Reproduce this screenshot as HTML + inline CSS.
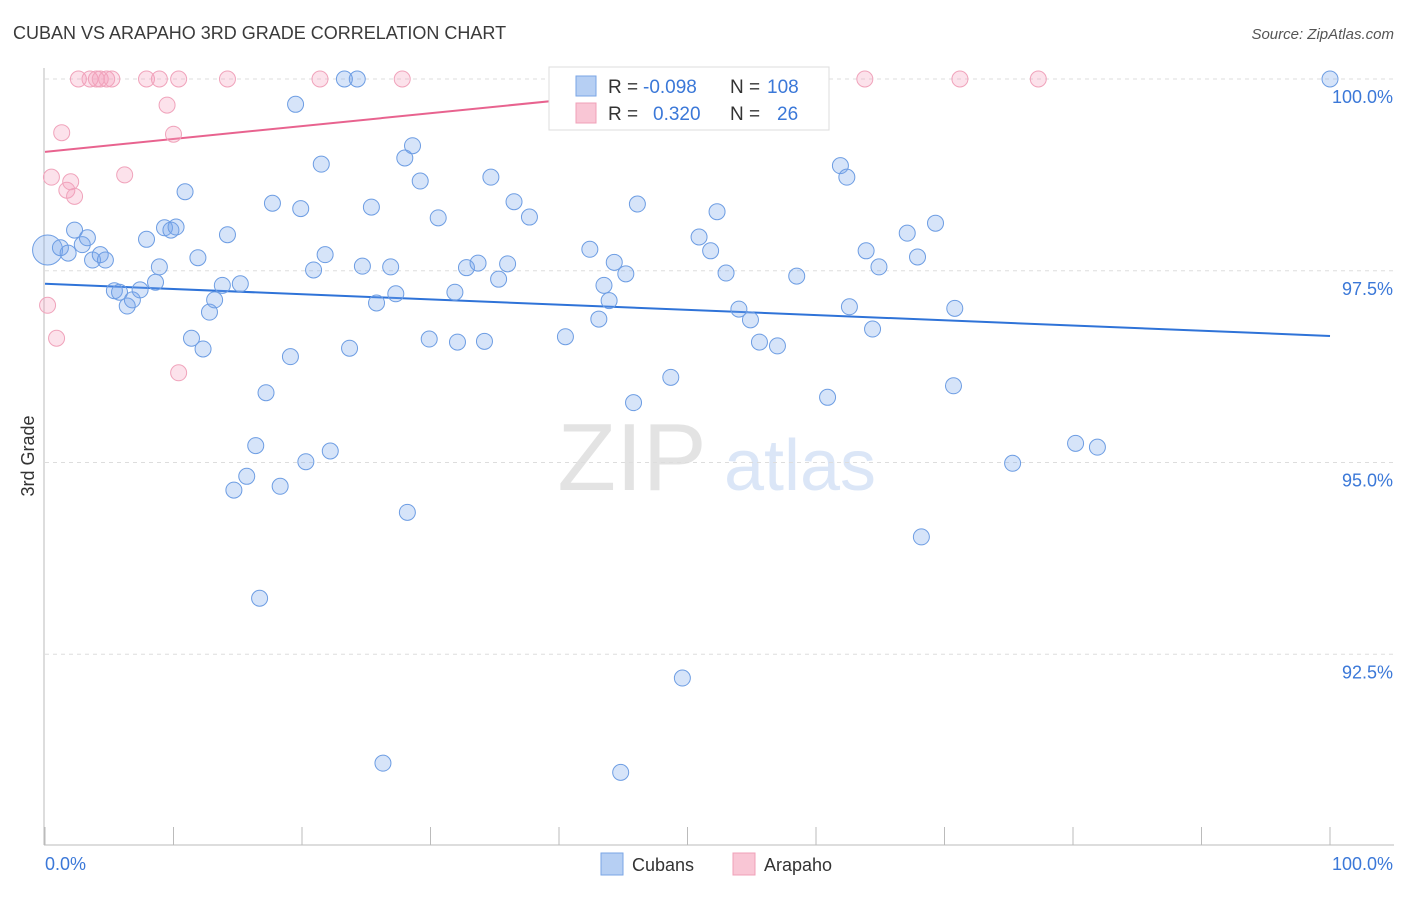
<!DOCTYPE html>
<html><head><meta charset="utf-8"><style>
body{margin:0;background:#fff;font-family:"Liberation Sans",sans-serif}
svg text{font-family:"Liberation Sans",sans-serif}
</style></head><body>
<svg id="chart" width="1406" height="892" xmlns="http://www.w3.org/2000/svg">
<text x="13" y="39" font-size="18" fill="#3a3a3a">CUBAN VS ARAPAHO 3RD GRADE CORRELATION CHART</text>
<text x="1394" y="39" font-size="15" fill="#555" text-anchor="end" font-style="italic">Source: ZipAtlas.com</text>
<text x="34" y="456" font-size="18" fill="#333" text-anchor="middle" transform="rotate(-90 34 456)">3rd Grade</text>
<g opacity="0.5">
<text x="632" y="490" font-size="96" fill="#c8c8c8" text-anchor="middle" font-family="Liberation Serif">ZIP</text>
<text x="800" y="490" font-size="72" fill="#b8cff0" text-anchor="middle">atlas</text>
</g>
<g id="grid"></g>
<g id="axes"></g>
<defs><clipPath id="clip"><rect x="44" y="75" width="1350" height="770"/></clipPath></defs>
<g id="lines" clip-path="url(#clip)"></g>
<g id="points"></g>
<g>
<rect x="549" y="67" width="280" height="63" fill="#fff" stroke="#ddd"/>
<rect x="576" y="76" width="20" height="20" fill="#b6cff3" stroke="#7aa6e6"/>
<text x="608" y="93" font-size="19" fill="#333">R = </text><text x="643" y="93" font-size="19" fill="#3b78d8">-0.098</text>
<text x="730" y="93" font-size="19" fill="#333">N = </text><text x="767" y="93" font-size="19" fill="#3b78d8">108</text>
<rect x="576" y="103" width="20" height="20" fill="#f9c6d5" stroke="#f0a0b8"/>
<text x="608" y="120" font-size="19" fill="#333">R = </text><text x="653" y="120" font-size="19" fill="#3b78d8">0.320</text>
<text x="730" y="120" font-size="19" fill="#333">N = </text><text x="777" y="120" font-size="19" fill="#3b78d8">26</text>
</g>
<g>
<rect x="601" y="853" width="22" height="22" fill="#b6cff3" stroke="#7aa6e6"/>
<text x="632" y="871" font-size="18" fill="#333">Cubans</text>
<rect x="733" y="853" width="22" height="22" fill="#f9c6d5" stroke="#f0a0b8"/>
<text x="764" y="871" font-size="18" fill="#333">Arapaho</text>
</g>
<text x="45" y="870" font-size="18" fill="#3b78d8">0.0%</text>
<text x="1393" y="870" font-size="18" fill="#3b78d8" text-anchor="end">100.0%</text>
</svg>
<script>
const yTicks=[100,97.5,95,92.5];
const yTickLabels=["100.0%","97.5%","95.0%","92.5%"];
const xTicks=[0,10,20,30,40,50,60,70,80,90,100];
const cubanX=[0.2,1.2,1.8,2.3,2.9,3.3,3.7,4.3,4.7,5.4,5.8,6.4,6.8,7.4,7.9,8.6,8.9,9.3,9.8,10.2,10.9,11.4,11.9,12.3,12.8,13.2,13.8,14.2,15.2,14.7,15.7,16.4,16.7,17.2,17.7,18.3,19.1,19.5,19.9,20.3,20.9,21.5,21.8,22.2,23.3,23.7,24.3,24.7,25.4,25.8,26.3,26.9,27.3,28.0,28.2,28.6,29.2,29.9,30.6,31.9,32.1,32.8,33.7,34.2,34.7,35.3,36.0,36.5,37.7,40.5,42.4,43.1,43.5,43.9,44.3,44.8,45.2,45.8,46.1,48.7,49.6,50.9,51.8,52.3,53.0,54.0,54.9,55.6,57.0,58.5,60.9,61.9,62.4,62.6,63.9,64.4,64.9,67.1,67.9,68.2,69.3,70.7,70.8,75.3,80.2,81.9,100.0];
const cubanY=[97.77,97.80,97.73,98.03,97.84,97.93,97.64,97.71,97.64,97.24,97.22,97.04,97.12,97.25,97.91,97.35,97.55,98.06,98.03,98.07,98.53,96.62,97.67,96.48,96.96,97.12,97.31,97.97,97.33,94.64,94.82,95.22,93.23,95.91,98.38,94.69,96.38,99.67,98.31,95.01,97.51,98.89,97.71,95.15,100,96.49,100,97.56,98.33,97.08,91.08,97.55,97.20,98.97,94.35,99.13,98.67,96.61,98.19,97.22,96.57,97.54,97.60,96.58,98.72,97.39,97.59,98.40,98.20,96.64,97.78,96.87,97.31,97.11,97.61,90.96,97.46,95.78,98.37,96.11,92.19,97.94,97.76,98.27,97.47,97.00,96.86,96.57,96.52,97.43,95.85,98.87,98.72,97.03,97.76,96.74,97.55,97.99,97.68,94.03,98.12,96.00,97.01,94.99,95.25,95.20,100];
const arapahoX=[0.2,0.5,0.9,1.3,1.7,2.0,2.3,2.6,3.5,4.0,4.3,4.8,5.2,6.2,7.9,8.9,9.5,10.0,10.4,10.4,14.2,21.4,27.8,63.8,71.2,77.3];
const arapahoY=[97.05,98.72,96.62,99.30,98.55,98.66,98.47,100,100,100,100,100,100,98.75,100,100,99.66,99.28,100,96.17,100,100,100,100,100,100];
const cubanTrend=[97.33,96.65];
const arapahoTrend=[99.05,100.73];
const NS="http://www.w3.org/2000/svg";
const X0=45,X1=1330,Y100=79,PX=76.7;
function xs(v){return X0+(X1-X0)*v/100;}
function ys(v){return Y100+(100-v)*PX;}
function mk(t,a,p){const e=document.createElementNS(NS,t);for(const k in a)e.setAttribute(k,a[k]);p.appendChild(e);return e;}
const grid=document.getElementById('grid');
yTicks.forEach((t,i)=>{
 const l=mk('line',{x1:45,x2:1393,y1:ys(t),y2:ys(t),stroke:'#ddd','stroke-dasharray':'4,4'},grid);
 
 
 const tx=mk('text',{x:1393,y:ys(t)+24,'font-size':18,fill:'#3b78d8','text-anchor':'end'},grid);
 tx.textContent=yTickLabels[i];
 
 
});
const axes=document.getElementById('axes');
const ya=mk('line',{x1:44,x2:44,y1:68,y2:845,stroke:'#bbb'},axes);


const xa=mk('line',{x1:44,x2:1394,y1:845,y2:845,stroke:'#bbb'},axes);


xTicks.forEach(t=>{
 const l=mk('line',{x1:xs(t),x2:xs(t),y1:827,y2:845,stroke:'#bbb'},axes);
 
 
});
const pts=document.getElementById('points');
cubanX.forEach((x,i)=>{
 const c=mk('circle',{cx:xs(x),cy:ys(cubanY[i]),r:i===0?15:8,fill:'rgba(120,165,235,0.3)',stroke:'#6d9de3','stroke-width':1},pts);
 
 
});
arapahoX.forEach((x,i)=>{
 const c=mk('circle',{cx:xs(x),cy:ys(arapahoY[i]),r:8,fill:'rgba(245,160,190,0.3)',stroke:'#f0a3bb','stroke-width':1},pts);
 
 
});
const lines=document.getElementById('lines');
const bl=mk('line',{x1:xs(0),y1:ys(cubanTrend[0]),x2:xs(100),y2:ys(cubanTrend[1]),stroke:'#2f73d8','stroke-width':2},lines);


const pl=mk('line',{x1:xs(0),y1:ys(arapahoTrend[0]),x2:xs(100),y2:ys(arapahoTrend[1]),stroke:'#e8638f','stroke-width':2},lines);


</script>
</body></html>
